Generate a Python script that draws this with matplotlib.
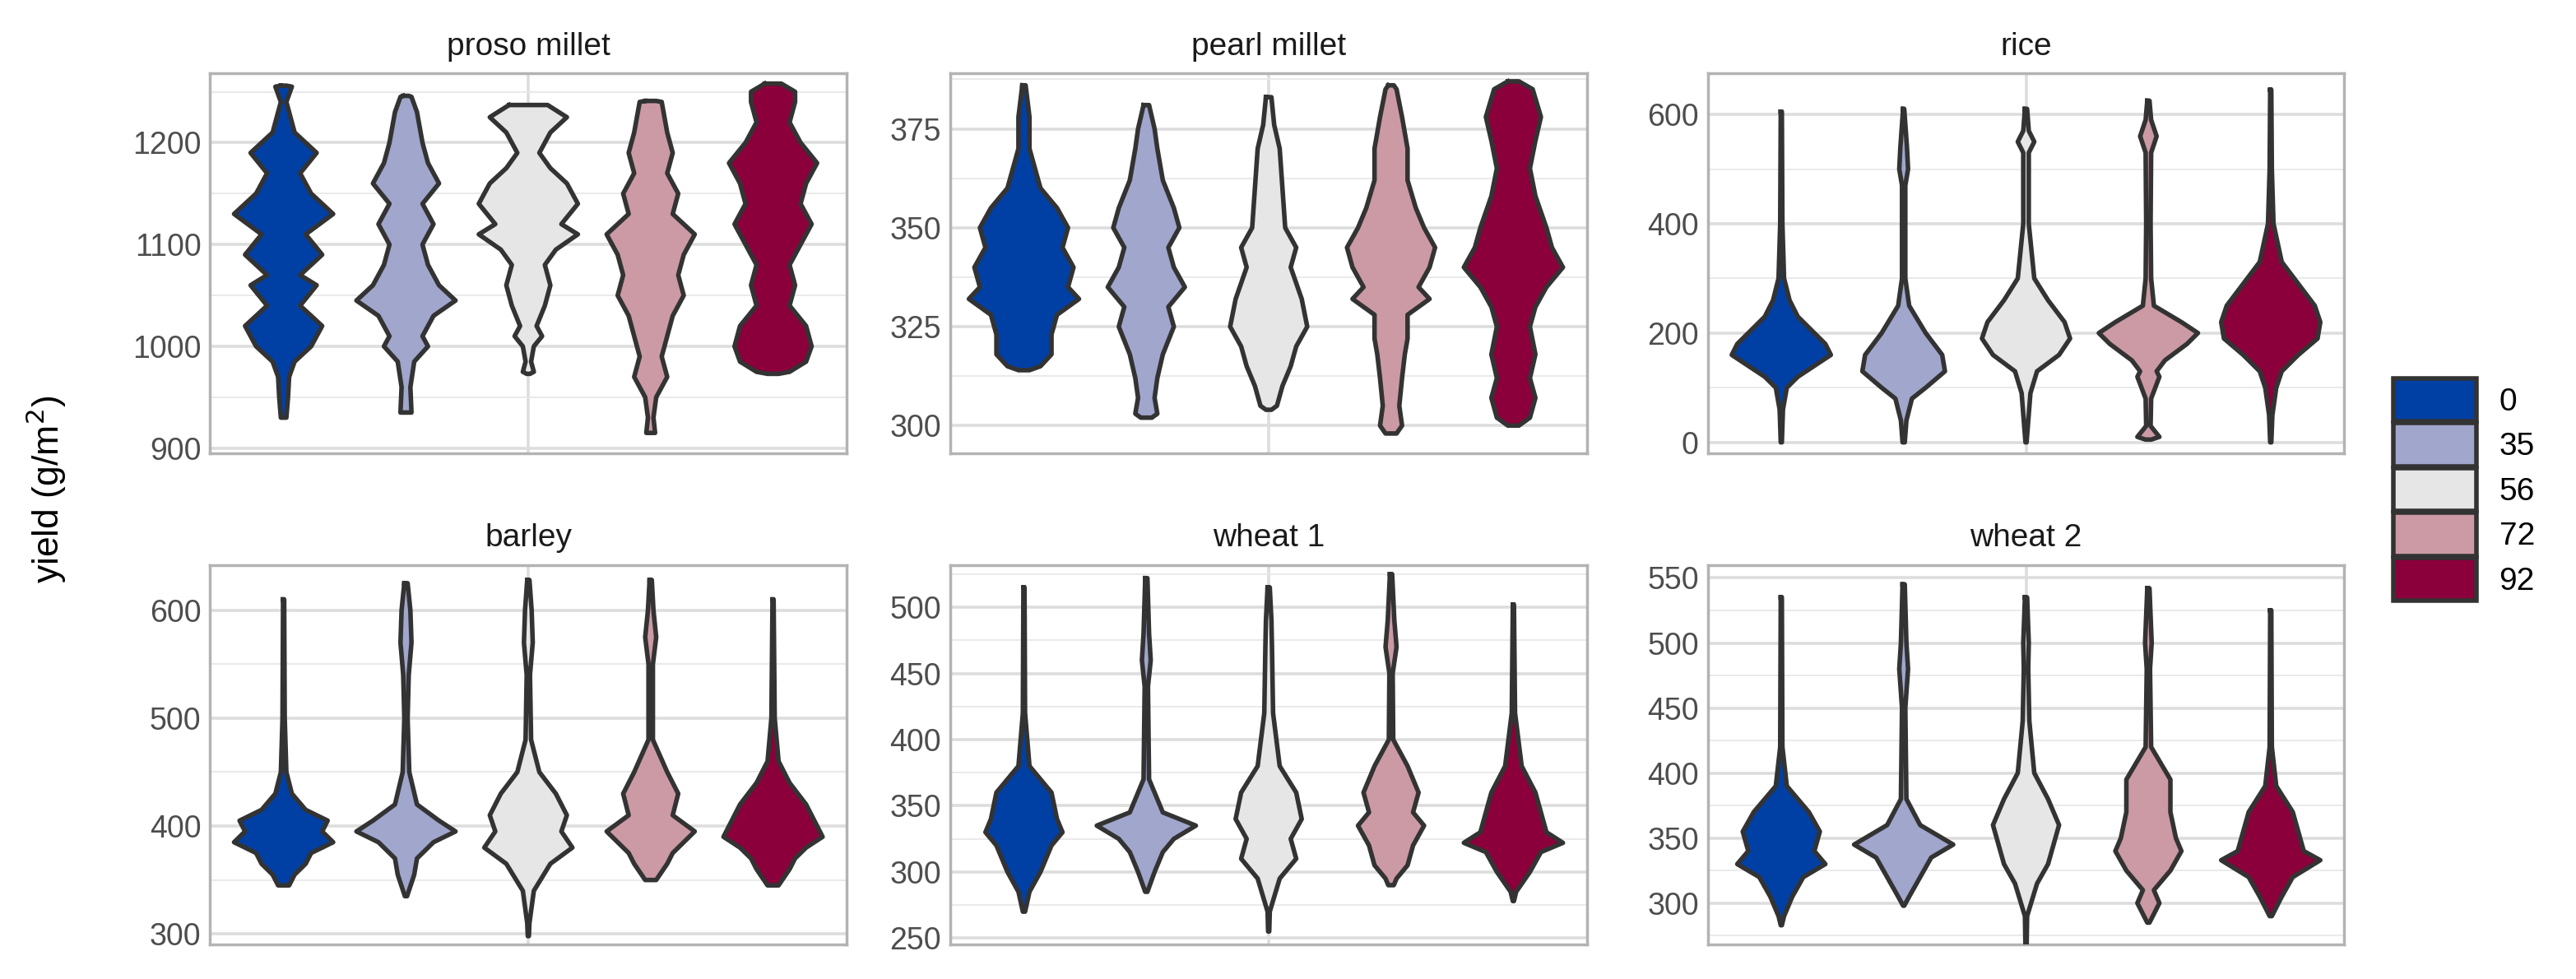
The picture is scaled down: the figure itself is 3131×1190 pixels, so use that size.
import matplotlib
matplotlib.use("Agg")
import matplotlib.pyplot as plt
import numpy as np
from matplotlib.patches import Patch
from matplotlib.ticker import MultipleLocator

groups = ["0", "35", "56", "72", "92"]
colors = ["#0040a5", "#a0a6cc", "#e6e6e6", "#cc9aa4", "#8b003b"]
crops = ["proso millet", "pearl millet", "rice", "barley", "wheat 1", "wheat 2"]

# violin outlines: (yield, relative half-width), top to bottom
proso = [
    [(1256,.05),(1255,.15),(1240,.05),(1210,.2),(1190,.6),(1170,.3),(1150,.5),(1130,.9),(1110,.4),(1090,.7),(1070,.3),(1060,.6),(1040,.3),(1020,.7),(1000,.5),(985,.2),(970,.1),(950,.08),(930,.05)],
    [(1246,.05),(1245,.1),(1230,.2),(1200,.3),(1180,.4),(1160,.6),(1140,.3),(1120,.5),(1100,.3),(1080,.4),(1060,.6),(1045,.9),(1030,.5),(1010,.3),(1000,.4),(985,.15),(960,.08),(935,.1)],
    [(1237,.35),(1225,.7),(1210,.4),(1190,.2),(1175,.4),(1160,.7),(1140,.9),(1120,.6),(1110,.9),(1095,.5),(1080,.3),(1060,.4),(1040,.3),(1020,.15),(1010,.25),(1000,.1),(985,.05),(975,.1),(973,.03)],
    [(1241,.1),(1240,.2),(1210,.3),(1190,.4),(1170,.3),(1150,.5),(1130,.4),(1110,.8),(1090,.6),(1070,.5),(1050,.6),(1030,.4),(1010,.3),(990,.2),(970,.3),(950,.1),(930,.05),(915,.08)],
    [(1258,.15),(1250,.4),(1240,.4),(1220,.3),(1200,.5),(1180,.8),(1160,.6),(1140,.5),(1120,.7),(1100,.5),(1080,.3),(1060,.4),(1040,.3),(1020,.6),(1000,.7),(985,.6),(975,.3),(973,.1)],
]
pearl = [
    [(386,.03),(378,.1),(370,.1),(365,.2),(360,.3),(355,.6),(350,.8),(345,.7),(340,.9),(335,.8),(332,1.0),(328,.6),(323,.5),(318,.5),(315,.3),(314,.1)],
    [(381,.05),(375,.15),(370,.2),(362,.3),(355,.5),(350,.6),(345,.4),(340,.5),(335,.7),(330,.4),(325,.5),(318,.3),(312,.2),(307,.15),(303,.2),(302,.1)],
    [(383,.05),(376,.1),(370,.2),(360,.25),(350,.3),(345,.5),(340,.4),(332,.6),(325,.7),(320,.5),(315,.4),(310,.25),(305,.15),(304,.05)],
    [(386,.05),(385,.1),(378,.2),(370,.3),(362,.3),(355,.45),(350,.6),(345,.8),(340,.7),(335,.5),(332,.7),(328,.3),(322,.3),(318,.25),(312,.2),(305,.15),(300,.2),(298,.1)],
    [(387,.1),(385,.35),(378,.5),(372,.4),(365,.3),(358,.4),(350,.6),(345,.7),(340,.9),(335,.6),(330,.4),(325,.3),(318,.4),(312,.3),(307,.4),(302,.3),(300,.1)],
]
rice = [
    [(605,.01),(400,.02),(300,.05),(260,.15),(230,.3),(200,.6),(180,.8),(160,.9),(140,.6),(120,.3),(100,.1),(60,.03),(0,.01)],
    [(610,.01),(540,.06),(500,.08),(470,.03),(300,.03),(250,.1),(200,.4),(160,.7),(130,.75),(100,.4),(80,.15),(40,.05),(0,.02)],
    [(610,.02),(570,.05),(550,.15),(530,.05),(400,.05),(300,.15),(260,.4),(220,.7),(190,.8),(160,.6),(130,.2),(90,.08),(0,.01)],
    [(625,.02),(590,.05),(560,.15),(530,.05),(400,.04),(300,.05),(250,.1),(220,.6),(200,.9),(180,.7),(150,.3),(130,.15),(120,.2),(80,.05),(30,.04),(10,.2),(5,.05)],
    [(645,.01),(500,.02),(400,.05),(330,.2),(290,.5),(250,.8),(220,.9),(190,.85),(160,.5),(130,.2),(100,.1),(50,.03),(0,.01)],
]
barley = [
    [(610,.01),(500,.02),(450,.05),(430,.15),(415,.4),(405,.8),(395,.7),(385,.9),(375,.5),(365,.4),(355,.2),(345,.1)],
    [(625,.03),(600,.08),(570,.1),(540,.05),(500,.03),(450,.06),(420,.2),(405,.6),(395,.9),(385,.5),(370,.2),(355,.15),(335,.02)],
    [(628,.02),(600,.06),(570,.08),(540,.03),(480,.05),(450,.2),(430,.5),(410,.7),(395,.6),(380,.8),(365,.4),(340,.1),(310,.02),(298,.01)],
    [(628,.02),(600,.05),(575,.1),(550,.04),(480,.04),(450,.3),(430,.5),(410,.4),(395,.8),(385,.6),(375,.4),(365,.3),(350,.1)],
    [(610,.01),(500,.03),(460,.1),(440,.3),(420,.6),(400,.8),(390,.9),(380,.6),(370,.4),(360,.3),(345,.1)],
]
wheat1 = [
    [(515,.01),(420,.02),(380,.1),(360,.5),(340,.6),(330,.7),(320,.5),(310,.4),(300,.3),(285,.1),(270,.02)],
    [(522,.02),(480,.05),(460,.08),(440,.03),(370,.05),(345,.3),(335,.9),(325,.5),(315,.3),(300,.15),(285,.02)],
    [(515,.02),(490,.05),(470,.06),(420,.08),(380,.2),(360,.5),(340,.6),(325,.4),(310,.5),(295,.2),(270,.02),(255,.01)],
    [(525,.02),(490,.06),(470,.1),(450,.03),(400,.04),(380,.3),(360,.5),(345,.4),(335,.6),(320,.4),(305,.3),(295,.1),(290,.05)],
    [(502,.01),(420,.03),(380,.15),(360,.4),(345,.5),(330,.6),(322,.9),(315,.5),(300,.3),(285,.05),(278,.01)],
]
wheat2 = [
    [(535,.01),(420,.02),(390,.1),(370,.5),(355,.7),(340,.6),(330,.8),(320,.4),(305,.2),(290,.05),(283,.01)],
    [(545,.02),(500,.05),(480,.08),(450,.03),(380,.05),(360,.3),(345,.9),(335,.5),(320,.3),(305,.1),(298,.01)],
    [(535,.02),(500,.05),(480,.04),(440,.06),(400,.15),(380,.4),(360,.6),(345,.5),(330,.4),(315,.2),(290,.02),(265,.01)],
    [(542,.02),(500,.06),(480,.03),(420,.05),(395,.4),(370,.4),(350,.5),(340,.6),(325,.4),(310,.1),(300,.2),(285,.02)],
    [(525,.01),(420,.02),(390,.1),(370,.4),(355,.5),(340,.6),(333,.9),(320,.4),(305,.2),(290,.02)],
]
profiles = [proso, pearl, rice, barley, wheat1, wheat2]
ylims = [(895, 1268), (293, 389), (-20, 675), (290, 642), (245, 532), (268, 560)]
major = [100, 25, 200, 100, 50, 50]

plt.rcParams['font.family'] = ['Liberation Sans', 'DejaVu Sans']
fig = plt.figure(figsize=(31.31, 11.90), dpi=100)
lefts = [0.0816, 0.369, 0.663]
bottoms = [0.537, 0.035]
W, H = 0.247, 0.388
for i, (name, prof) in enumerate(zip(crops, profiles)):
    ax = fig.add_axes([lefts[i % 3], bottoms[i // 3], W, H])
    ax.yaxis.set_major_locator(MultipleLocator(major[i]))
    ax.yaxis.set_minor_locator(MultipleLocator(major[i] / 2))
    ax.grid(True, which='major', color='#dddddd', lw=2.6, zorder=0)
    ax.grid(True, which='minor', axis='y', color='#e8e8e8', lw=1.3, zorder=0)
    ax.set_xticks([3])
    ax.set_xticklabels([])
    ax.tick_params(axis='x', length=0)
    ax.tick_params(axis='y', which='both', length=0, labelsize=27, labelcolor='#4d4d4d', pad=8)
    for s in ax.spines.values():
        s.set_color('#b3b3b3'); s.set_linewidth(2.5)
    for j, pts in enumerate(prof):
        y = np.array([p[0] for p in pts], float)
        w = np.array([p[1] for p in pts], float) * 0.45
        x = j + 1
        ax.fill_betweenx(y, x - w, x + w, facecolor=colors[j], edgecolor='none', zorder=2)
        ax.plot(np.r_[x - w, (x + w)[::-1], x - w[0]], np.r_[y, y[::-1], y[0]],
                color='#333333', lw=4, zorder=3, solid_joinstyle='round')
    ax.set_xlim(0.4, 5.6)
    ax.set_ylim(*ylims[i])
    ax.set_title(name, fontsize=28, color='#1a1a1a', pad=16)

fig.text(0.018, 0.5, r'yield (g/m$^2$)', rotation=90, va='center', ha='center', fontsize=32)
handles = [Patch(facecolor=c, edgecolor='#333333', lw=4) for c in colors]
fig.legend(handles, groups, loc='center left', bbox_to_anchor=(0.918, 0.5), frameon=False,
           fontsize=28, handlelength=2.6, handleheight=1.7, labelspacing=0.05, handletextpad=0.7)
fig.savefig("out.png", dpi=100, facecolor='white')
